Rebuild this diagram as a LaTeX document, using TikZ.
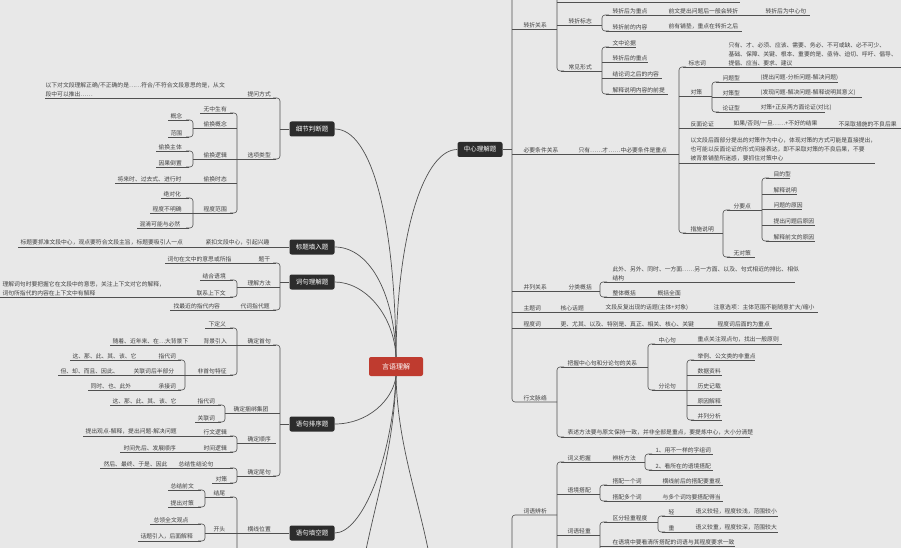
\documentclass[tikz,border=0pt]{standalone}
\usepackage{fontspec}
\setmainfont{Noto Sans CJK SC}
\usetikzlibrary{positioning}
\definecolor{bg}{HTML}{E8E8E8}
\definecolor{lc}{HTML}{505050}
\definecolor{tc}{HTML}{404040}
\definecolor{topicfill}{HTML}{2C2C2C}
\definecolor{rootfill}{HTML}{BF3B2F}

\newcounter{lb}
\newcommand\lab[3]{\stepcounter{lb}\node[lbl] (lb\thelb) at (#1,#2) {#3};}
\newcommand\ul[3]{\draw[ln] (#1,#3) -- (#2,#3);}
\newcommand\lbk[3]{\draw[ln,rounded corners=3pt] (#1-7,#2) -- (#1,#2) -- (#1,#3) -- (#1-7,#3);}
\newcommand\rbk[3]{\draw[ln,rounded corners=3pt] (#1+7,#2) -- (#1,#2) -- (#1,#3) -- (#1+7,#3);}

\tikzset{
    lbl/.style={anchor=south west, inner sep=0.4pt, yshift=0.8pt, align=left,
        text=tc, font=\fontsize{5.8}{9}\selectfont},
    ln/.style={draw=lc, line width=0.6pt},
    link/.style={draw=lc, line width=0.7pt},
    topic/.style={fill=topicfill, text=white, rounded corners=2pt, inner sep=1pt,
        minimum width=45pt, minimum height=15pt, font=\fontsize{6.5}{7}\selectfont},
    root/.style={fill=rootfill, text=white, rounded corners=2pt, inner sep=1pt,
        minimum width=54pt, minimum height=19pt, font=\fontsize{7}{8}\selectfont},
}

\begin{document}
\begin{tikzpicture}[x=1pt, y=-1pt]
    \useasboundingbox (0,0) rectangle (901,548);
    \fill[bg] (0,0) rectangle (901,548);
    \clip (0,0) rectangle (901,548);

    \node[root] (c) at (396,366.5) {言语理解};
    \node[topic] (m1) at (312,129) {细节判断题};
    \node[topic] (m2) at (312,247) {标题填入题};
    \node[topic] (m3) at (312,282) {词句理解题};
    \node[topic] (m4) at (312,424) {语句排序题};
    \node[topic] (m5) at (312,533) {语句填空题};
    \node[topic] (r1) at (480,149.5) {中心理解题};

    \draw[link] (c.north) .. controls (395,220) and (372,129) .. (m1.east);
    \draw[link] (c.north) .. controls (394,290) and (368,247) .. (m2.east);
    \draw[link] (c.north) .. controls (394,315) and (365,282) .. (m3.east);
    \draw[link] (c.north) .. controls (397,230) and (425,149.5) .. (r1.west);
    \draw[link] (c.south) .. controls (393,400) and (368,424) .. (m4.east);
    \draw[link] (c.south) .. controls (392,460) and (362,533) .. (m5.east);
    \draw[link] (c.south) .. controls (394,450) and (375,500) .. (362,570);
    \draw[link] (c.south) .. controls (398,450) and (420,500) .. (432,570);

    % left: m1
    \draw[ln] (m1.west) -- (280,129);
    \lbk{280}{98}{159}
    \ul{45}{276}{98} \lab{247}{98}{提问方式}
    \lab{45}{98}{以下对文段理解正确/不正确的是……符合/不符合文段意思的是，从文\\段中可以推出……}
    \ul{237}{276}{159} \lab{247}{159}{选项类型}
    \lbk{237}{113}{213}
    \ul{200}{233}{113} \lab{203}{113}{无中生有}
    \ul{193}{237}{128} \lab{203}{128}{偷换概念}
    \lbk{193}{120}{137}
    \ul{168}{189}{120} \lab{170}{120}{概念}
    \ul{168}{189}{137} \lab{170}{137}{范围}
    \ul{193}{237}{159} \lab{203}{159}{偷换逻辑}
    \lbk{193}{151}{167}
    \ul{156}{189}{151} \lab{158}{151}{偷换主体}
    \ul{156}{189}{167} \lab{158}{167}{因果倒置}
    \ul{115}{237}{183} \lab{203}{183}{偷换时态} \lab{117}{183}{将来时、过去式、进行时}
    \ul{150}{233}{213} \lab{203}{213}{程度范围} \lab{152}{213}{程度不明确}
    \lbk{193}{198}{228}
    \ul{161}{189}{198} \lab{163}{198}{绝对化}
    \ul{137}{189}{228} \lab{139}{228}{混淆可能与必然}

    % left: m2, m3
    \draw[ln] (m2.west) -- (18,247);
    \lab{205}{247}{紧扣文段中心，引起兴趣}
    \lab{20}{247}{标题要抓准文段中心，观点要符合文段主旨，标题要吸引人一点}
    \draw[ln] (m3.west) -- (280,282);
    \lbk{280}{263}{310}
    \ul{165}{276}{263} \lab{258}{263}{题干} \lab{167}{263}{词句在文中的意思或所指}
    \ul{237}{280}{287} \lab{247}{287}{理解方法}
    \lbk{237}{280}{297}
    \ul{200}{233}{280} \lab{202}{280}{结合语境}
    \ul{0}{233}{297} \lab{196}{297}{联系上下文}
    \lab{2}{297}{理解词句时要把握它在文段中的意思，关注上下文对它的解释，\\词句所指代的内容在上下文中有解释}
    \ul{170}{276}{310} \lab{240}{310}{代词指代题} \lab{173}{310}{找最近的指代内容}

    % left: m4
    \draw[ln] (m4.west) -- (280,424);
    \lbk{280}{345}{476}
    \ul{237}{276}{345} \lab{247}{345}{确定首句}
    \lbk{237}{328}{375}
    \ul{205}{233}{328} \lab{208}{328}{下定义}
    \ul{110}{237}{345} \lab{203}{345}{背景引入} \lab{112}{345}{随着、近年来、在…大背景下}
    \ul{58}{233}{375} \lab{197}{375}{非首句特征}
    \lbk{185}{360}{390}
    \ul{70}{181}{360} \lab{158}{360}{指代词} \lab{72}{360}{这、那、此、其、该、它}
    \lab{133}{375}{关联词后半部分} \lab{60}{375}{但、却、而且、因此、}
    \ul{88}{181}{390} \lab{158}{390}{承接词} \lab{90}{390}{同时、也、此外}
    \ul{225}{280}{413} \lab{233}{413}{确定捆绑集团}
    \lbk{225}{405}{422}
    \ul{110}{221}{405} \lab{197}{405}{指代词} \lab{112}{405}{这、那、此、其、该、它}
    \ul{195}{221}{422} \lab{197}{422}{关联词}
    \ul{237}{276}{443} \lab{247}{443}{确定顺序}
    \lbk{237}{436}{452}
    \ul{83}{233}{436} \lab{203}{436}{行文逻辑} \lab{85}{436}{提出观点-解释，提出问题-解决问题}
    \ul{120}{233}{452} \lab{203}{452}{时间逻辑} \lab{123}{452}{时间先后、发展顺序}
    \ul{237}{276}{476} \lab{247}{476}{确定尾句}
    \lbk{237}{468}{483}
    \ul{100}{233}{468} \lab{178}{468}{总结性结论句} \lab{103}{468}{然后、最终、于是、因此}
    \ul{212}{233}{483} \lab{215}{483}{对策}

    % left: m5
    \draw[ln] (m5.west) -- (205,533);
    \lab{247}{533}{横线位置}
    \draw[ln,rounded corners=3pt] (230,497) -- (237,497) -- (237,575);
    \ul{205}{233}{497} \lab{213}{497}{结尾}
    \lbk{205}{490}{507}
    \ul{168}{201}{490} \lab{170}{490}{总结前文}
    \ul{168}{201}{507} \lab{170}{507}{提出对策}
    \lab{213}{533}{开头}
    \lbk{205}{524}{541}
    \ul{150}{201}{524} \lab{153}{524}{总领全文观点}
    \ul{138}{201}{541} \lab{140}{541}{话题引入，后面解释}
    \ul{205}{237}{566}
    \lbk{205}{556}{580}
    \ul{150}{201}{556}

    % right: r1
    \draw[ln] (r1.east) -- (512,149.5);
    \draw[ln,rounded corners=3pt] (512,-10) -- (512,402) -- (557,402);
    \ul{512}{557}{29} \lab{523}{29}{转折关系}
    \draw[ln,rounded corners=3pt] (557,-10) -- (557,71) -- (564,71);
    \ul{557}{740}{2}
    \ul{557}{602}{25} \lab{568}{25}{转折标志}
    \rbk{602}{15}{31}
    \ul{606}{810}{15} \lab{612}{15}{转折后为重点} \lab{668}{15}{前文提出问题后一般会转折} \lab{765}{15}{转折后为中心句}
    \ul{606}{742}{31} \lab{612}{31}{转折前的内容} \lab{668}{31}{前有铺垫，重点在转折之后}
    \ul{561}{602}{71} \lab{568}{71}{常见形式}
    \rbk{602}{47}{94}
    \ul{606}{636}{47} \lab{612}{47}{文中论据}
    \ul{602}{648}{62} \lab{612}{62}{转折后的重点}
    \ul{602}{662}{78} \lab{612}{78}{结论词之后的内容}
    \ul{606}{668}{94} \lab{612}{94}{解释说明内容的前提}

    \ul{512}{679}{154} \lab{523}{154}{必要条件关系} \lab{578}{154}{只有……才……中必要条件是重点}
    \draw[ln,rounded corners=3pt] (686,67) -- (679,67) -- (679,233) -- (686,233);
    \ul{683}{905}{67} \lab{688}{67}{标志词}
    \lab{728}{67}{只有、才、必须、应该、需要、务必、不可或缺、必不可少、\\基础、保障、关键、根本、重要的是、亟待、迫切、呼吁、倡导、\\提倡、应当、要求、建议}
    \ul{679}{712}{96} \lab{690}{96}{对策}
    \rbk{712}{82}{112}
    \ul{716}{838}{82} \lab{722}{82}{问题型} \lab{760}{82}{(提出问题-分析问题-解决问题)}
    \ul{712}{862}{97} \lab{722}{97}{对策型} \lab{760}{97}{(发现问题-解决问题-解释说明其意义)}
    \ul{716}{825}{112} \lab{722}{112}{论证型} \lab{760}{112}{对策+正反两方面论证(对比)}
    \ul{679}{905}{128} \lab{690}{128}{反面论证} \lab{733}{128}{如果/否则/一旦……+不好的结果} \lab{838}{128}{不采取措施的不良后果}
    \ul{679}{875}{163}
    \lab{690}{163}{以文段后面部分提出的对策作为中心，体现对策的方式可能是直接提出，\\也可能以反面论证的形式间接表达，即不采取对策的不良后果，不要\\被背景铺垫所迷惑，要抓住对策中心}
    \ul{683}{723}{233} \lab{690}{233}{措施说明}
    \rbk{723}{210}{257}
    \ul{727}{762}{210} \lab{733}{210}{分要点}
    \rbk{762}{178}{241}
    \ul{766}{790}{178} \lab{773}{178}{目的型}
    \ul{762}{797}{194} \lab{773}{194}{解释说明}
    \ul{762}{802}{209} \lab{773}{209}{问题的原因}
    \ul{762}{815}{225} \lab{773}{225}{提出问题后原因}
    \ul{766}{815}{241} \lab{773}{241}{解释前文的原因}
    \ul{727}{755}{257} \lab{733}{257}{无对策}

    \ul{512}{600}{291} \lab{523}{291}{并列关系} \lab{568}{291}{分类概括}
    \rbk{600}{282}{297}
    \ul{604}{795}{282} \lab{612}{282}{此外、另外、同时、一方面……另一方面、以及、句式相近的排比、相似\\结构}
    \ul{604}{680}{297} \lab{612}{297}{整体概括} \lab{657}{297}{概括全面}
    \ul{512}{818}{312} \lab{523}{312}{主题词} \lab{560}{312}{核心话题} \lab{605}{312}{文段反复出现的话题(主体+对象)} \lab{713}{312}{注意选项：主体范围不能随意扩大/缩小}
    \ul{512}{772}{328} \lab{523}{328}{程度词} \lab{560}{328}{更、尤其、以及、特别是、真正、相关、核心、关键} \lab{717}{328}{程度词后面的为重点}

    \lab{523}{402}{行文脉络}
    \rbk{557}{367}{437}
    \ul{561}{648}{367} \lab{567}{367}{把握中心句和分论句的关系}
    \rbk{648}{344}{390}
    \ul{652}{782}{344} \lab{658}{344}{中心句} \lab{697}{344}{重点关注观点句，找出一般原则}
    \ul{652}{687}{390} \lab{658}{390}{分论句}
    \rbk{687}{360}{420}
    \ul{691}{755}{360} \lab{697}{360}{举例、公文类的非重点}
    \ul{687}{722}{375} \lab{697}{375}{数据资料}
    \ul{687}{722}{390} \lab{697}{390}{历史记载}
    \ul{687}{722}{405} \lab{697}{405}{原因解释}
    \ul{691}{722}{420} \lab{697}{420}{并列分析}
    \ul{561}{750}{437} \lab{567}{437}{表述方法要与原文保持一致，并非全部是重点，要提炼中心，大小分清楚}

    % right: lower tree
    \draw[ln,rounded corners=3pt] (557,515) -- (512,515) -- (512,575);
    \lab{523}{515}{词语辨析}
    \draw[ln,rounded corners=3pt] (564,462) -- (557,462) -- (557,575);
    \ul{561}{645}{462} \lab{567}{462}{词义把握} \lab{612}{462}{辨析方法}
    \rbk{645}{454}{470}
    \ul{649}{713}{454} \lab{655}{454}{1、用不一样的字组词}
    \ul{649}{713}{470} \lab{655}{470}{2、看所在的语境搭配}
    \ul{557}{600}{494} \lab{567}{494}{语境搭配}
    \rbk{600}{485}{501}
    \ul{604}{723}{485} \lab{612}{485}{搭配一个词} \lab{662}{485}{横线前后的搭配要重视}
    \ul{604}{723}{501} \lab{612}{501}{搭配多个词} \lab{662}{501}{与多个词均要搭配得当}
    \ul{557}{600}{535} \lab{567}{535}{词语轻重}
    \draw[ln,rounded corners=3pt] (607,522) -- (600,522) -- (600,575);
    \ul{604}{658}{522} \lab{612}{522}{区分轻重程度}
    \rbk{658}{516}{532}
    \ul{662}{778}{516} \lab{668}{516}{轻} \lab{695}{516}{语义较轻，程度较浅，范围较小}
    \ul{662}{778}{532} \lab{668}{532}{重} \lab{695}{532}{语义较重，程度较深，范围较大}
    \ul{600}{735}{546} \lab{612}{546}{在语境中要看清所搭配的词语与其程度要求一致}
\end{tikzpicture}
\end{document}
